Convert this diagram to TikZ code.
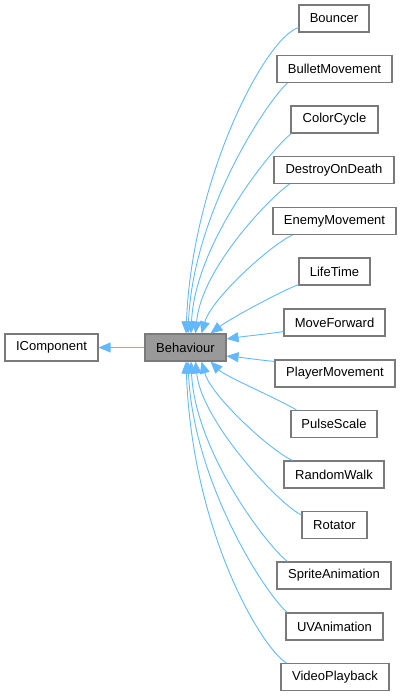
\documentclass[tikz,border=0pt]{standalone}
\usepackage{fontspec}
\setmainfont{Liberation Sans}
\usetikzlibrary{arrows.meta}
\definecolor{edgeblue}{HTML}{63B8FF}
\definecolor{boxgray}{HTML}{7A7A7A}
\definecolor{fillgray}{HTML}{999999}
\begin{document}
\begin{tikzpicture}[x=1bp,y=-1bp,
  box/.style={draw=boxgray,line width=1.1bp,fill=white,minimum height=27bp,inner sep=0pt,
    font=\fontsize{13bp}{15bp}\selectfont,text=black},
  basebox/.style={box,fill=fillgray},
  edge/.style={draw=edgeblue,line width=0.9bp,-{Triangle[length=12bp,width=10bp]},fill=none}]
\useasboundingbox (0,0) rectangle (402,696);
\node[box,minimum width=93bp] (icomp) at (51.5,347.5) {IComponent};
\node[basebox,minimum width=81bp] (beh) at (185.5,347.5) {Behaviour};
\node[box,minimum width=70bp] (bouncer) at (334,18.5) {Bouncer};
\node[box,minimum width=115bp] (bullet) at (334.5,69) {BulletMovement};
\node[box,minimum width=87bp] (color) at (334.5,119.5) {ColorCycle};
\node[box,minimum width=120bp] (destroy) at (334,170) {DestroyOnDeath};
\node[box,minimum width=123bp] (enemy) at (334.5,221) {EnemyMovement};
\node[box,minimum width=71bp] (life) at (334.5,271.5) {LifeTime};
\node[box,minimum width=101bp] (move) at (334.5,322.5) {MoveForward};
\node[box,minimum width=120bp] (player) at (335,373.5) {PlayerMovement};
\node[box,minimum width=86bp] (pulse) at (334,424) {PulseScale};
\node[box,minimum width=100bp] (random) at (334,474.5) {RandomWalk};
\node[box,minimum width=65bp] (rotator) at (334.5,525) {Rotator};
\node[box,minimum width=114bp] (sprite) at (334,575.5) {SpriteAnimation};
\node[box,minimum width=97bp] (uv) at (334.5,626.5) {UVAnimation};
\node[box,minimum width=108bp] (video) at (335,677) {VideoPlayback};
% edges
\draw[edge] (beh.west) -- (icomp.east);
\draw[edge] ([yshift=5bp]bouncer.south west) .. controls +(-34,11) and +(6,-154) .. ([xshift=0.5bp]beh.north);
\draw[edge] ([xshift=11bp]bullet.south west) .. controls +(-22,20) and +(5,-120) .. ([xshift=2.5bp]beh.north);
\draw[edge] ([xshift=1bp]color.south west) .. controls +(-20,15) and +(4,-90) .. ([xshift=5.5bp]beh.north);
\draw[edge] ([xshift=16bp]destroy.south west) .. controls +(-20,14) and +(6,-65) .. ([xshift=10bp]beh.north);
\draw[edge] ([xshift=20bp]enemy.south west) .. controls +(-22,10) and +(10,-35) .. ([xshift=16bp]beh.north);
\draw[edge] ([yshift=1bp]life.south west) .. controls +(-20,8) and +(20,-15) .. ([xshift=25bp]beh.north);
\draw[edge] ([yshift=5bp]move.south west) .. controls +(-20,3) and +(20,-3) .. ([yshift=8.5bp]beh.east);
\draw[edge] ([yshift=-2bp]player.north west) .. controls +(-20,-2) and +(20,2) .. ([yshift=-8.5bp]beh.east);
\draw[edge] ([xshift=6bp]pulse.north west) .. controls +(-20,-12) and +(15,15) .. ([xshift=25bp]beh.south);
\draw[edge] ([xshift=9bp]random.north west) .. controls +(-22,-10) and +(10,35) .. ([xshift=16bp]beh.south);
\draw[edge] ([yshift=-4bp]rotator.north west) .. controls +(-22,-10) and +(6,60) .. ([xshift=10bp]beh.south);
\draw[edge] ([xshift=11bp]sprite.north west) .. controls +(-20,-15) and +(4,90) .. ([xshift=5.5bp]beh.south);
\draw[edge] ([xshift=2bp]uv.north west) .. controls +(-22,-18) and +(5,120) .. ([xshift=2.5bp]beh.south);
\draw[edge] ([xshift=6bp]video.north west) .. controls +(-25,-15) and +(6,170) .. ([xshift=0.5bp]beh.south);
\end{tikzpicture}
\end{document}
